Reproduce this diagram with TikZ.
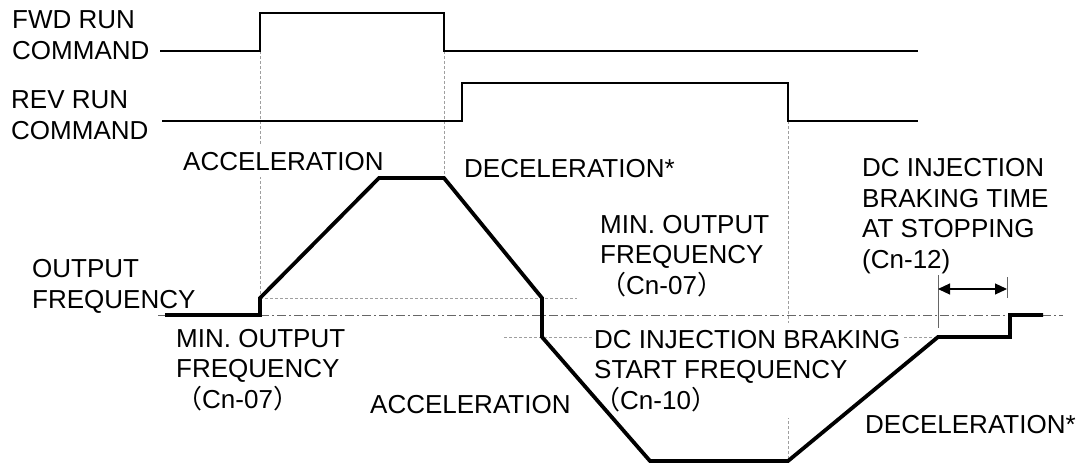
\documentclass[tikz,border=0pt]{standalone}
\usepackage{fontspec}
\setmainfont{Liberation Sans}
\newfontfamily\cjk{Noto Sans CJK SC}
\usetikzlibrary{arrows.meta}
\tikzset{
  lbl/.style={anchor=base west,align=left,inner sep=0pt},
  blank/.style={fill=white,inner xsep=2pt,inner ysep=7pt},
  guide/.style={gray!75,line width=0.7pt,dash pattern=on 3pt off 2pt},
  zeroline/.style={gray!80!black,line width=0.7pt,dash pattern=on 9pt off 3pt on 2pt off 3pt},
  signal/.style={line width=1.6pt},
  freq/.style={line width=3.8pt,line join=miter}
}
\newcommand{\lp}{{\cjk （}}
\newcommand{\rp}{{\cjk ）}}
\begin{document}
\begin{tikzpicture}[x=1pt,y=-1pt,>={Triangle[length=12pt,width=11pt]},font=\fontsize{26}{30.5}\selectfont]
\useasboundingbox (0,0) rectangle (1085,463);
\draw[guide] (260,51) -- (260,298);
\draw[guide] (444,51) -- (444,178);
\draw[guide] (788,121) -- (788,461);
\draw[guide] (260,298) -- (577,298);
\draw[guide] (504,337) -- (938,337);
\draw[zeroline] (158,315) -- (1063,315);
\draw[signal] (160,51) -- (260,51) -- (260,13) -- (444,13) -- (444,51) -- (918,51);
\draw[signal] (162,121) -- (462,121) -- (462,83) -- (788,83) -- (788,121) -- (918,121);
\node[lbl] (fwd) at (12,59) {FWD RUN\\COMMAND};
\node[lbl] (rev) at (11,139) {REV RUN\\COMMAND};
\node[lbl] (outf) at (32,308) {OUTPUT\\FREQUENCY};
\node[lbl,blank] (accup) at (181,170) {ACCELERATION};
\node[lbl] (decup) at (464,177) {DECELERATION*};
\node[lbl] (minr) at (600,294) {MIN. OUTPUT\\FREQUENCY\\\lp Cn-07\rp};
\node[lbl] (dcstop) at (862,268) {DC INJECTION\\BRAKING TIME\\AT STOPPING\\(Cn-12)};
\node[lbl] (minl) at (176,408) {MIN. OUTPUT\\FREQUENCY\\\lp Cn-07\rp};
\node[lbl] (accdn) at (370,413) {ACCELERATION};
\node[lbl,blank] (dcstart) at (592,409) {DC INJECTION BRAKING\\START FREQUENCY\\\lp Cn-10\rp};
\node[lbl] (decdn) at (865,433) {DECELERATION*};
\draw[freq] (165,315) -- (260,315) -- (260,298) -- (379,178) -- (444,178) -- (542,298)
  -- (542,337) -- (650,461) -- (788,461) -- (938,337) -- (1010,337) -- (1010,315) -- (1043,315);
\draw[gray!80!black,line width=1pt] (938,275) -- (938,328);
\draw[gray!80!black,line width=1pt] (1007,277) -- (1007,298);
\coordinate (tbA) at (938,289);
\coordinate (tbB) at (1007,289);
\draw[<->,line width=1.2pt] (tbA) -- (tbB);
\end{tikzpicture}
\end{document}
